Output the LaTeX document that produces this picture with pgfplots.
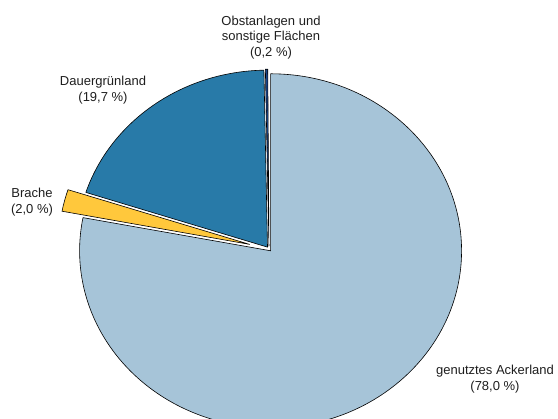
\documentclass[border=0pt]{standalone}
\usepackage{pgfplots}
\usepackage{pgfplotstable}
\usepackage{fontspec}
\setmainfont{Liberation Sans}
\pgfplotsset{compat=1.18}
\definecolor{cAcker}{RGB}{166,196,216}
\definecolor{cBrache}{RGB}{255,200,60}
\definecolor{cDauer}{RGB}{40,122,168}
\definecolor{cObst}{RGB}{25,70,140}
\definecolor{txt}{RGB}{30,30,30}

\pgfplotstableread{
label value explode
Ackerland 78.0 2.5
Brache 2.0 20
Dauergruenland 19.7 2.5
Obst 0.2 3
}\piedata

\newcommand\slice[4]{%
  \pgfmathsetmacro\m{(#1+#2)/2}%
  \pgfmathsetmacro\cx{269+#3*cos(\m)}%
  \pgfmathsetmacro\cy{170+#3*sin(\m)*0.927}%
  \edef\temp{\noexpand\filldraw[fill=#4, draw=black, line width=0.6pt, line join=round]
    (axis cs:\cx,\cy) -- ++(#1:191pt and 177pt)
    arc[start angle=#1, end angle=#2, x radius=191pt, y radius=177pt] -- cycle;}%
  \temp}

\begin{document}
\begin{tikzpicture}
\pgfplotstablegetelem{0}{value}\of\piedata\pgfmathsetmacro\vA{\pgfplotsretval}
\pgfplotstablegetelem{1}{value}\of\piedata\pgfmathsetmacro\vB{\pgfplotsretval}
\pgfplotstablegetelem{2}{value}\of\piedata\pgfmathsetmacro\vC{\pgfplotsretval}
\pgfplotstablegetelem{3}{value}\of\piedata\pgfmathsetmacro\vD{\pgfplotsretval}
\pgfplotstablegetelem{0}{explode}\of\piedata\pgfmathsetmacro\eA{\pgfplotsretval}
\pgfplotstablegetelem{1}{explode}\of\piedata\pgfmathsetmacro\eB{\pgfplotsretval}
\pgfplotstablegetelem{2}{explode}\of\piedata\pgfmathsetmacro\eC{\pgfplotsretval}
\pgfplotstablegetelem{3}{explode}\of\piedata\pgfmathsetmacro\eD{\pgfplotsretval}
\pgfmathsetmacro\aA{90}
\pgfmathsetmacro\aB{\aA-3.6*\vA}
\pgfmathsetmacro\aC{\aB-3.6*\vB}
\pgfmathsetmacro\aD{\aC-3.6*\vC}
\pgfmathsetmacro\aE{\aD-3.6*\vD}
\begin{axis}[
  x=1pt, y=1pt,
  xmin=0, xmax=558, ymin=0, ymax=419,
  hide axis,
  clip=true,
]
\slice{\aA}{\aB}{\eA}{cAcker}
\slice{\aB}{\aC}{\eB}{cBrache}
\slice{\aC}{\aD}{\eC}{cDauer}
\slice{\aD}{\aE}{\eD}{cObst}
\begin{scope}[every node/.style={align=center, text=txt, font=\fontsize{13}{15.5}\selectfont}]
\node at (axis cs:271,381.5) {Obstanlagen und\\sonstige Flächen\\(0,2 \%)};
\node at (axis cs:103,329) {Dauergrünland\\(19,7 \%)};
\node at (axis cs:32,217) {Brache\\(2,0 \%)};
\node at (axis cs:495,40) {genutztes Ackerland\\(78,0 \%)};
\end{scope}
\end{axis}
\pgfresetboundingbox
\path (current axis.south west) rectangle (current axis.north east);
\end{tikzpicture}
\end{document}
